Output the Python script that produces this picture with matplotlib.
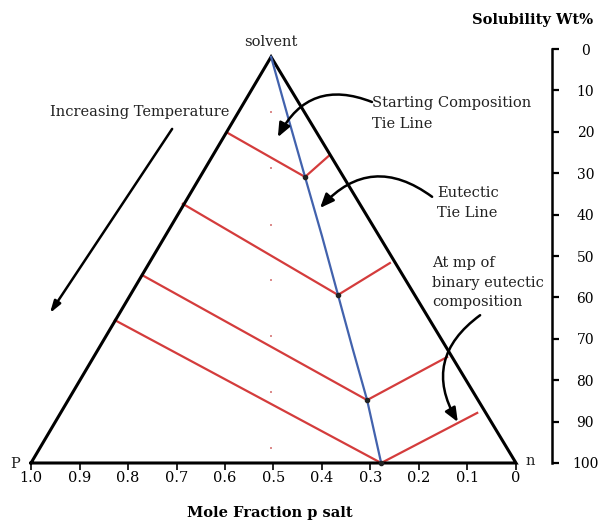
import matplotlib
matplotlib.use("Agg")
import matplotlib.pyplot as plt
from matplotlib.patches import FancyArrowPatch

plt.rcParams['font.family'] = ['DejaVu Serif']

# ---- data (x: mole fraction p salt, y: solubility wt%) ----
x_ticks = [1.0, 0.9, 0.8, 0.7, 0.6, 0.5, 0.4, 0.3, 0.2, 0.1, 0.0]
x_ticklabels = ['1.0', '0.9', '0.8', '0.7', '0.6', '0.5', '0.4', '0.3', '0.2', '0.1', '0']
y_ticks = [0, 10, 20, 30, 40, 50, 60, 70, 80, 90, 100]

tri_x = [1.0, 0.505, 0.0, 1.0]
tri_y = [100, 1.9, 100, 100]

# eutectic tie line (blue)
eut_x = [0.505, 0.470, 0.435, 0.400, 0.367, 0.337, 0.307, 0.278]
eut_y = [1.9, 16.5, 30.9, 45.2, 59.4, 72.3, 84.8, 100]

# red tie lines: left edge point -> eutectic point -> right edge point
tie_left_x = [0.594, 0.687, 0.771, 0.827]
tie_left_y = [20.3, 37.4, 54.6, 65.5]
tie_mid_x = [0.435, 0.367, 0.307, 0.278]
tie_mid_y = [30.9, 59.4, 84.8, 100]
tie_right_x = [0.384, 0.260, 0.142, 0.080]
tie_right_y = [25.6, 51.7, 74.4, 87.9]

# small dots on the 0.5 line
dot_x = [0.505] * 7
dot_y = [15.2, 28.7, 42.5, 55.8, 69.3, 82.9, 96.4]

# annotation arrows: (start, end)
arrow_temp = ((0.709, 19.3), (0.961, 63.8))
arrow_start = ((0.297, 12.8), (0.491, 21.3))
arrow_eut = ((0.173, 35.7), (0.404, 38.4))
arrow_mp = ((0.074, 64.3), (0.120, 90.1))

RED = '#d43c3c'
BLUE = '#4262ad'

fig = plt.figure(figsize=(6.01, 5.21), dpi=100)
ax = fig.add_axes([31 / 601, (521 - 463) / 521, 485 / 601, 414 / 521])
ax.set_xlim(1.0, 0.0)
ax.set_ylim(100, 0)

for s in ['left', 'top', 'bottom']:
    ax.spines[s].set_visible(False)
ax.spines['right'].set_position(('axes', (552 - 31) / 485))
ax.spines['right'].set_linewidth(1.8)
ax.yaxis.tick_right()
ax.set_yticks(y_ticks)
ax.set_yticklabels([str(v) for v in y_ticks])
ax.tick_params(axis='y', direction='out', length=5, width=1.6, pad=19, labelsize=10)
plt.setp(ax.get_yticklabels(), ha='center')

ax.set_xticks(x_ticks)
ax.set_xticklabels(x_ticklabels)
ax.tick_params(axis='x', direction='out', length=5, width=1.2, pad=1, labelsize=10.5)

# triangle
ax.plot(tri_x, tri_y, color='black', lw=2.2, solid_joinstyle='miter', clip_on=False, zorder=3)

# eutectic line
ax.plot(eut_x, eut_y, color=BLUE, lw=1.6, clip_on=False, zorder=4)

# tie lines
for i in range(len(tie_left_x)):
    ax.plot([tie_left_x[i], tie_mid_x[i], tie_right_x[i]],
            [tie_left_y[i], tie_mid_y[i], tie_right_y[i]],
            color=RED, lw=1.6, clip_on=False, zorder=2)
ax.plot(tie_mid_x, tie_mid_y, 'o', color='#222222', ms=3, clip_on=False, zorder=5)

ax.plot(dot_x, dot_y, 's', color='#dc8c8c', ms=2, mew=0, zorder=2)

# arrows
ax.annotate('', xy=arrow_temp[1], xytext=arrow_temp[0],
            arrowprops=dict(arrowstyle='-|>,head_length=0.7,head_width=0.22',
                            lw=1.8, color='black', shrinkA=0, shrinkB=0))
for (s, e), rad in [(arrow_start, 0.45), (arrow_eut, 0.45), (arrow_mp, 0.45)]:
    ax.add_patch(FancyArrowPatch(s, e, connectionstyle='arc3,rad=%g' % rad,
                                 arrowstyle='-|>,head_length=0.6,head_width=0.25',
                                 mutation_scale=14, lw=1.8, color='black',
                                 shrinkA=0, shrinkB=0, zorder=6))

TXT = dict(fontsize=10.5, color='#222222')
ax.text(0.775, 15.2, 'Increasing Temperature', ha='center', va='center', **TXT)
ax.text(0.297, 13.1, 'Starting Composition', ha='left', va='center', **TXT)
ax.text(0.297, 18.2, 'Tie Line', ha='left', va='center', **TXT)
ax.text(0.163, 34.8, 'Eutectic', ha='left', va='center', **TXT)
ax.text(0.163, 39.6, 'Tie Line', ha='left', va='center', **TXT)
ax.text(0.173, 51.7, 'At mp of', ha='left', va='center', **TXT)
ax.text(0.173, 56.5, 'binary eutectic', ha='left', va='center', **TXT)
ax.text(0.173, 61.1, 'composition', ha='left', va='center', **TXT)
ax.text(0.505, -1.7, 'solvent', ha='center', va='center', **TXT)
ax.text(1.033, 100.3, 'P', ha='center', va='center', **TXT)
ax.text(-0.029, 99.6, 'n', ha='center', va='center', **TXT)

ax.set_xlabel('Mole Fraction p salt', fontweight='bold', fontsize=10.5)
ax.xaxis.set_label_coords(0.493, -0.104)
ax.text(1.035, 1.070, 'Solubility Wt%', transform=ax.transAxes, ha='center',
        va='center', fontweight='bold', fontsize=10.5)

fig.savefig('out.png', dpi=100)
